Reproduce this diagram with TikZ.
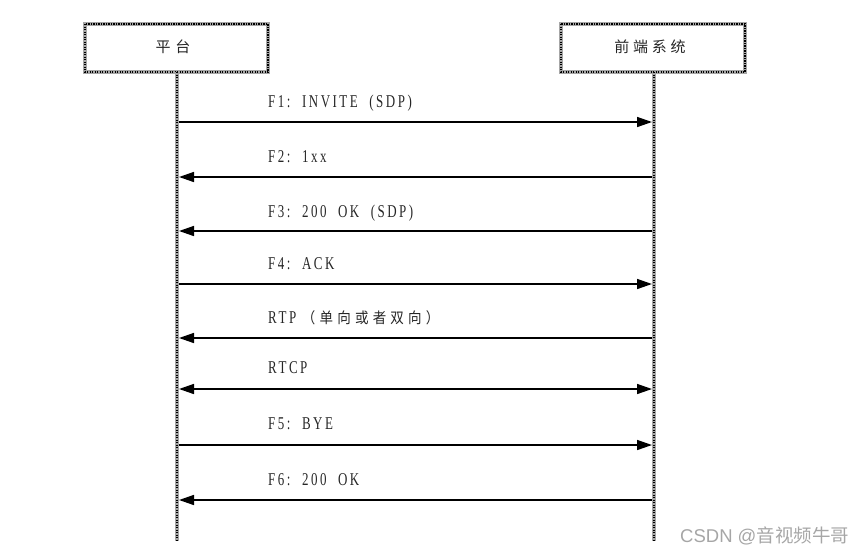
\documentclass[tikz,border=0pt]{standalone}
\usepackage{fontspec}
\setmainfont{Liberation Serif}[LetterSpace=14,FakeStretch=0.72]
\newfontfamily\cjk{Noto Sans CJK SC}[LetterSpace=25]
\newfontfamily\cjklbl{Noto Sans CJK SC}[LetterSpace=28,FakeStretch=0.9]
\newfontfamily\wmfont{Liberation Sans}
\newfontfamily\wmcjk{Noto Sans CJK SC}
\usetikzlibrary{arrows.meta}
\begin{document}
\begin{tikzpicture}[x=1pt,y=-1pt,
  hatch/.style={draw=gray!70,line width=4.5pt},
  hatchdots/.style={draw=black,line width=1.6pt,dash pattern=on 1.2pt off 1.3pt},
  msg/.style={line width=1.5pt,-{Triangle[length=15pt,width=10pt]}},
  bimsg/.style={line width=1.5pt,{Triangle[length=15pt,width=10pt]}-{Triangle[length=15pt,width=10pt]}},
  lbl/.style={anchor=base west,font=\fontsize{18}{20}\selectfont,inner sep=0pt,text=black!85},
  boxtxt/.style={font=\cjk\fontsize{15}{17}\selectfont,text=black!85}]
\useasboundingbox (0,0) rectangle (867,555);
% boxes
\foreach \a/\b in {85/268,561/745}{
  \draw[hatch] (\a,24) rectangle (\b,72);
  \draw[hatchdots] (\a,24) rectangle (\b,72);
}
\node[boxtxt] (pt) at (173,47) {平\hspace{5pt}台};
\node[boxtxt] (fe) at (650,47) {前端系统};
% lifelines
\coordinate (Ltop) at (177,72);
\coordinate (Lbot) at (177,541);
\coordinate (Rtop) at (654,72);
\coordinate (Rbot) at (654,541);
\draw[hatch] (Ltop) -- (Lbot);
\draw[hatchdots] (Ltop) -- (Lbot);
\draw[hatch] (Rtop) -- (Rbot);
\draw[hatchdots] (Rtop) -- (Rbot);
% message end points
\foreach \n/\y in {1/122,2/177,3/231,4/284,5/338,6/389,7/445,8/500}{
  \coordinate (L\n) at (179,\y);
  \coordinate (R\n) at (652,\y);
}
\draw[msg] (L1) -- (R1);
\draw[msg] (R2) -- (L2);
\draw[msg] (R3) -- (L3);
\draw[msg] (L4) -- (R4);
\draw[msg] (R5) -- (L5);
\draw[bimsg] (L6) -- (R6);
\draw[msg] (L7) -- (R7);
\draw[msg] (R8) -- (L8);
% labels
\node[lbl] (t1) at (268,107) {F1:\ \ INVITE\ \ (SDP)};
\node[lbl] (t2) at (268,162) {F2:\ \ 1xx};
\node[lbl] (t3) at (268,217) {F3:\ \ 200\ \ OK\ \ (SDP)};
\node[lbl] (t4) at (268,269) {F4:\ \ ACK};
\node[lbl] (t5) at (268,323) {RTP\ {\cjklbl\fontsize{15}{17}\selectfont（单向或者双向）}};
\node[lbl] (t6) at (268,373) {RTCP};
\node[lbl] (t7) at (268,429) {F5:\ \ BYE};
\node[lbl] (t8) at (268,485) {F6:\ \ 200\ \ OK};
% watermark
\node[anchor=base west,inner sep=0pt,text=gray!70,font=\fontsize{18.5}{20}\selectfont] (wm) at (680,542) {\wmfont CSDN @\wmcjk 音视频牛哥};
\end{tikzpicture}
\end{document}
